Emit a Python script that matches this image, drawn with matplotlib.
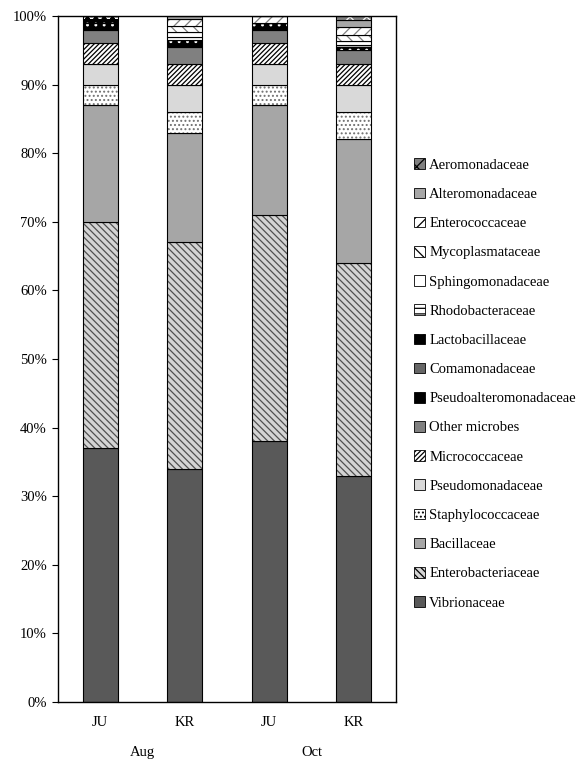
import matplotlib
matplotlib.use("Agg")
import matplotlib.pyplot as plt
from matplotlib.patches import Patch
import numpy as np

plt.rcParams['font.family'] = ['Liberation Serif', 'DejaVu Serif']
plt.rcParams['hatch.linewidth'] = 0.9

sites = ["JU", "KR", "JU", "KR"]
months = ["Aug", "Oct"]

families = ["Vibrionaceae", "Enterobacteriaceae", "Bacillaceae", "Staphylococcaceae",
            "Pseudomonadaceae", "Micrococcaceae", "Other microbes", "Pseudoalteromonadaceae",
            "Comamonadaceae", "Lactobacillaceae", "Rhodobacteraceae", "Sphingomonadaceae",
            "Mycoplasmataceae", "Enterococcaceae", "Alteromonadaceae", "Aeromonadaceae"]

# percent values per sample (JU Aug, KR Aug, JU Oct, KR Oct)
vibrionaceae = [37, 34, 38, 33]
enterobacteriaceae = [33, 33, 33, 31]
bacillaceae = [17, 16, 16, 18]
staphylococcaceae = [3, 3, 3, 4]
pseudomonadaceae = [3, 4, 3, 4]
micrococcaceae = [3, 3, 3, 3]
other_microbes = [2, 2.5, 2, 2]
pseudoalteromonadaceae = [1, 1, 1, 0.5]
comamonadaceae = [0, 0, 0, 0]
lactobacillaceae = [1, 0, 0, 0]
rhodobacteraceae = [0, 0.5, 0, 0.3]
sphingomonadaceae = [0, 0.7, 0, 0.5]
mycoplasmataceae = [0, 0.9, 0, 0.9]
enterococcaceae = [0, 0.9, 1, 1.2]
alteromonadaceae = [0, 0.5, 0, 1.0]
aeromonadaceae = [0, 0, 0, 0.6]

values = [vibrionaceae, enterobacteriaceae, bacillaceae, staphylococcaceae,
          pseudomonadaceae, micrococcaceae, other_microbes, pseudoalteromonadaceae,
          comamonadaceae, lactobacillaceae, rhodobacteraceae, sphingomonadaceae,
          mycoplasmataceae, enterococcaceae, alteromonadaceae, aeromonadaceae]

# (facecolor, hatch, hatchcolor)
styles = [
    ("#595959", None, None),
    ("#d4d4d4", "\\\\\\\\\\", "#505050"),
    ("#a6a6a6", None, None),
    ("#ffffff", "....", "#707070"),
    ("#d9d9d9", None, None),
    ("#ffffff", "///////", "#000000"),
    ("#808080", None, None),
    ("#000000", "..", "#ffffff"),
    ("#666666", None, None),
    ("#000000", "oo", "#ffffff"),
    ("#ffffff", "---", "#808080"),
    ("#ffffff", None, None),
    ("#ffffff", "\\\\\\", "#808080"),
    ("#ffffff", "///", "#808080"),
    ("#a6a6a6", None, None),
    ("#808080", "xx", "#ffffff"),
]

fig = plt.figure(figsize=(5.79, 7.62), dpi=100)
ax = fig.add_axes([58/579, 60/762, 338/579, 686/762])

x = np.arange(len(sites))
width = 0.41
bottom = np.zeros(len(sites))
for name, vals, (fc, h, hc) in zip(families, values, styles):
    vals = np.array(vals, dtype=float)
    if h:
        ax.bar(x, vals, width, bottom=bottom, color=fc, hatch=h, edgecolor=hc, linewidth=0)
    else:
        ax.bar(x, vals, width, bottom=bottom, color=fc, linewidth=0)
    ax.bar(x, vals, width, bottom=bottom, fill=False, edgecolor="black", linewidth=0.8)
    bottom += vals

leg_handles = []
for name, (fc, h, hc) in zip(families, styles):
    leg_handles.append(Patch(facecolor=fc, hatch=h, edgecolor="black", linewidth=0.6, label=name))

ax.set_xlim(-0.5, 3.5)
ax.set_ylim(0, 100)
ax.set_yticks(np.arange(0, 101, 10))
ax.set_yticklabels([f"{v}%" for v in range(0, 101, 10)], fontsize=10.5)
ax.set_xticks(x)
ax.set_xticklabels(sites, fontsize=10.5)
ax.tick_params(axis='x', length=0, pad=10)
ax.tick_params(axis='y', length=4, direction='out', pad=4)
for s in ax.spines.values():
    s.set_linewidth(1.0)
    s.set_color("black")

for i, m in enumerate(months):
    ax.text(2 * i + 0.5, -7.3, m, ha='center', va='center', fontsize=10.5,
            transform=ax.transData, clip_on=False)

fig.legend(handles=leg_handles[::-1], loc='center left',
           bbox_to_anchor=(414/579, 1 - 384/762), frameon=False,
           fontsize=10.5, handlelength=0.75, handleheight=0.75, handletextpad=0.3,
           labelspacing=1.08, borderpad=0, borderaxespad=0)

fig.savefig("out.png", dpi=100)
